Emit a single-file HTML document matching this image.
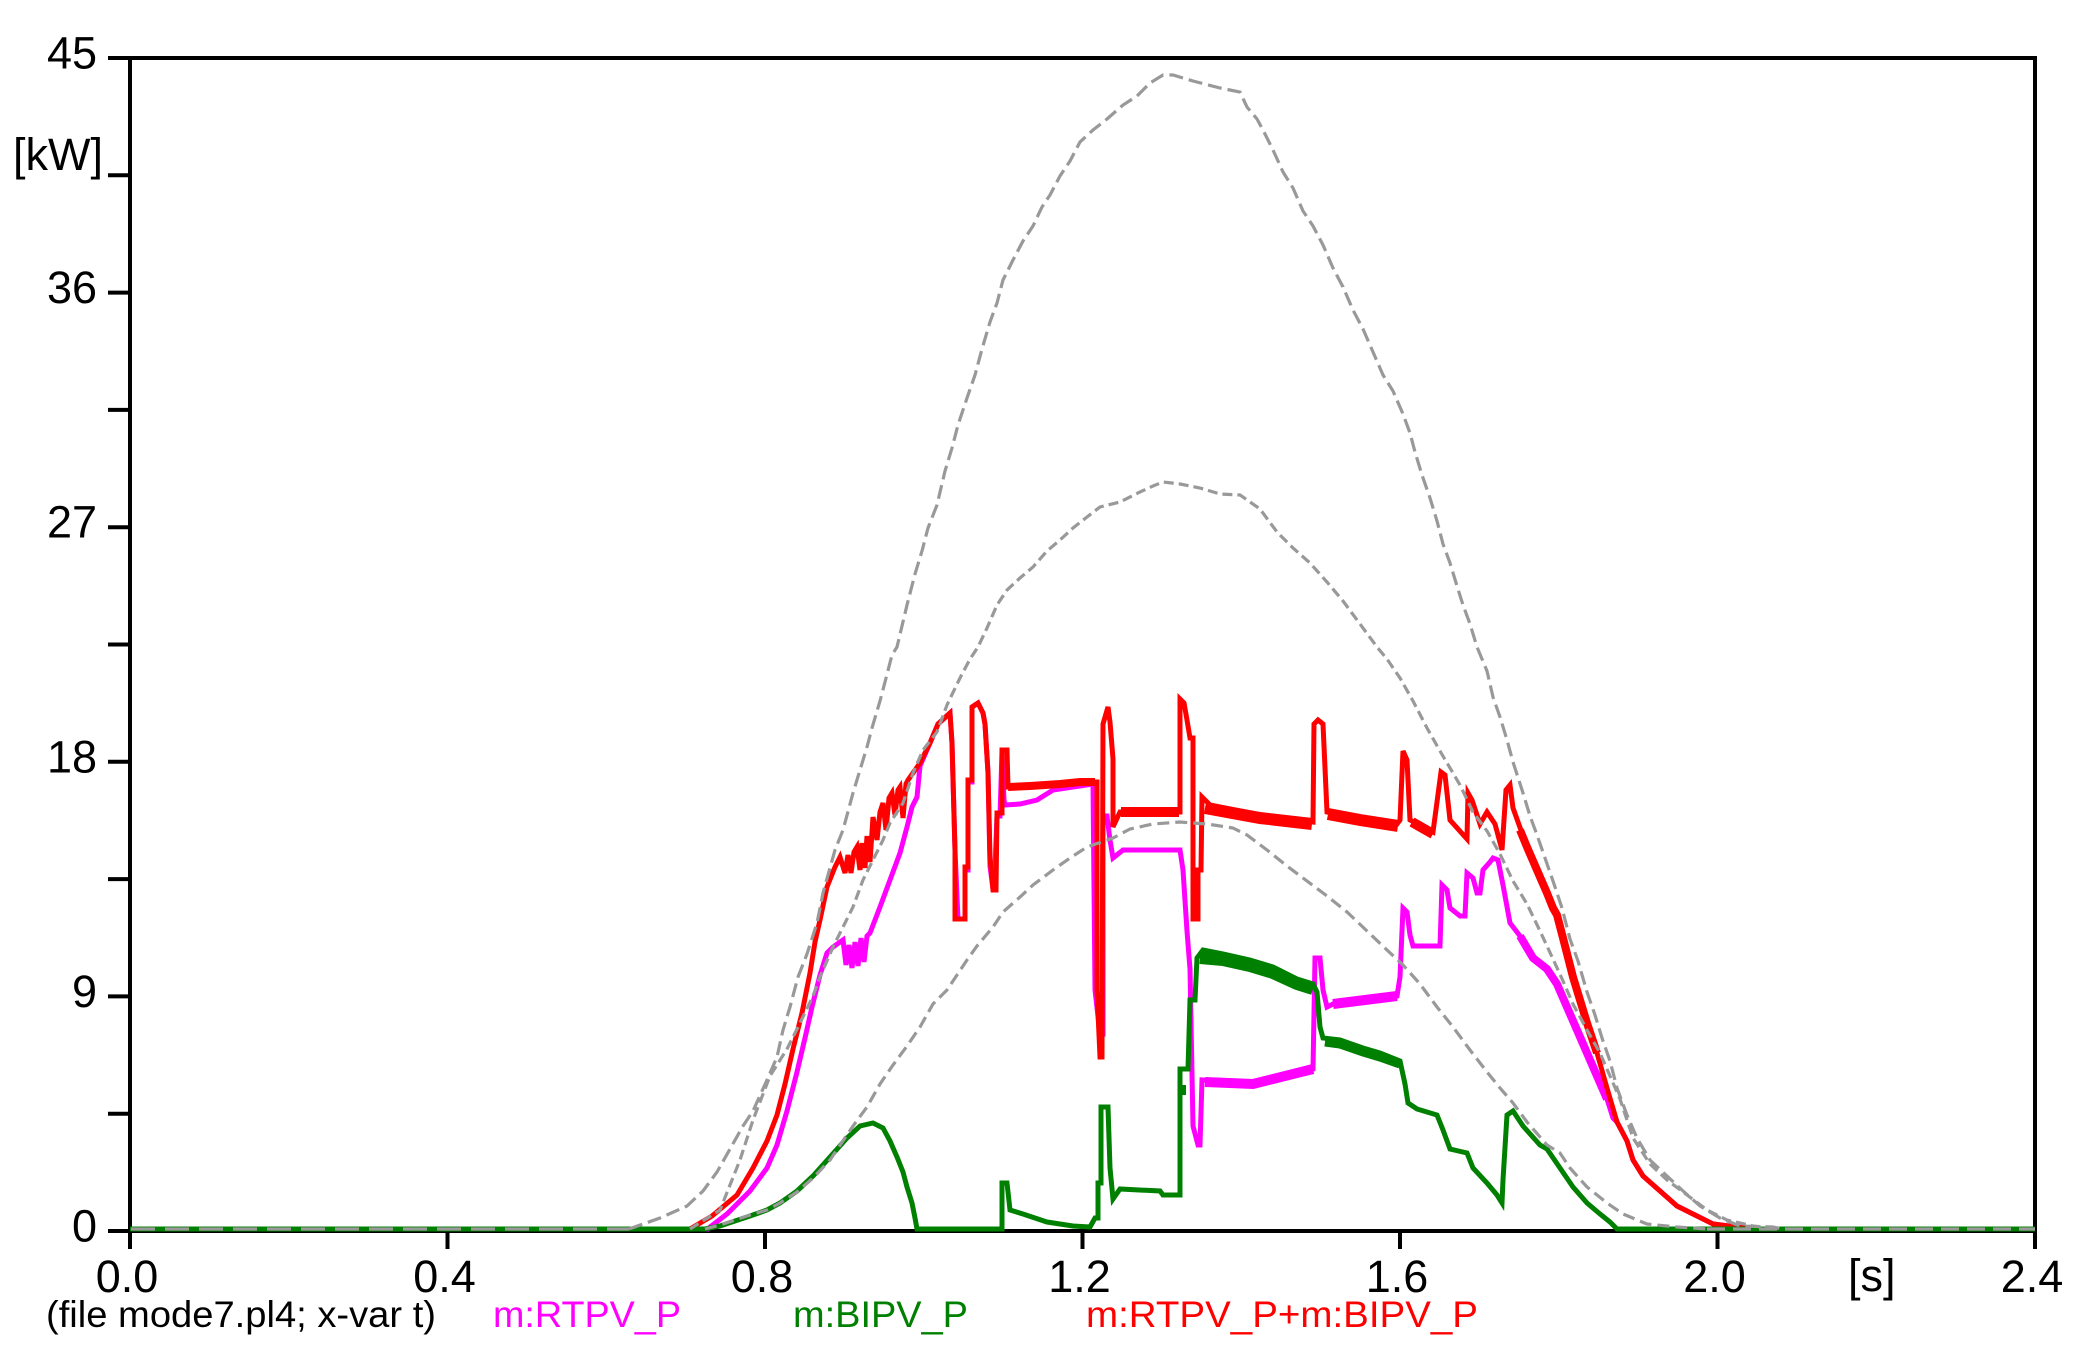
<!DOCTYPE html>
<html>
<head>
<meta charset="utf-8">
<style>
html,body{margin:0;padding:0;background:#fff;}
svg{display:block;}
text{font-family:"Liberation Sans",Arial,sans-serif;}
</style>
</head>
<body>
<svg width="2076" height="1369" viewBox="0 0 2076 1369" xmlns="http://www.w3.org/2000/svg">
<rect x="0" y="0" width="2076" height="1369" fill="#fff"/>

<!-- axes frame -->
<g stroke="#000" stroke-width="4" fill="none" stroke-linecap="butt">
  <line x1="128" y1="58" x2="2037" y2="58"/>
  <line x1="130" y1="56" x2="130" y2="1249"/>
  <line x1="2035" y1="56" x2="2035" y2="1249"/>
  <line x1="130" y1="1231" x2="2035" y2="1231"/>
  <!-- y ticks -->
  <line x1="108" y1="58" x2="130" y2="58"/>
  <line x1="108" y1="175.3" x2="130" y2="175.3"/>
  <line x1="108" y1="292.6" x2="130" y2="292.6"/>
  <line x1="108" y1="409.9" x2="130" y2="409.9"/>
  <line x1="108" y1="527.2" x2="130" y2="527.2"/>
  <line x1="108" y1="644.5" x2="130" y2="644.5"/>
  <line x1="108" y1="761.8" x2="130" y2="761.8"/>
  <line x1="108" y1="879.1" x2="130" y2="879.1"/>
  <line x1="108" y1="996.4" x2="130" y2="996.4"/>
  <line x1="108" y1="1113.7" x2="130" y2="1113.7"/>
  <line x1="108" y1="1231" x2="130" y2="1231"/>
  <!-- x ticks -->
  <line x1="447.5" y1="1231" x2="447.5" y2="1249"/>
  <line x1="765" y1="1231" x2="765" y2="1249"/>
  <line x1="1082.5" y1="1231" x2="1082.5" y2="1249"/>
  <line x1="1400" y1="1231" x2="1400" y2="1249"/>
  <line x1="1717.5" y1="1231" x2="1717.5" y2="1249"/>
</g>

<!-- y labels -->
<g font-size="45" fill="#000" text-anchor="end">
  <text x="97" y="68.5">45</text>
  <text x="97" y="303">36</text>
  <text x="97" y="537.7">27</text>
  <text x="97" y="772.3">18</text>
  <text x="97" y="1007">9</text>
  <text x="97" y="1241.5">0</text>
</g>
<text x="13" y="170" font-size="45" fill="#000">[kW]</text>

<!-- x labels -->
<g font-size="45" fill="#000" text-anchor="middle">
  <text x="127" y="1292">0.0</text>
  <text x="444.5" y="1292">0.4</text>
  <text x="762" y="1292">0.8</text>
  <text x="1079.5" y="1292">1.2</text>
  <text x="1397" y="1292">1.6</text>
  <text x="1714.5" y="1292">2.0</text>
  <text x="2032" y="1292">2.4</text>
</g>
<text x="1848" y="1291" font-size="45" fill="#000">[s]</text>

<!-- legend -->
<g font-size="37">
  <text x="46" y="1327" fill="#000" textLength="390" lengthAdjust="spacingAndGlyphs">(file mode7.pl4; x-var t)</text>
  <text x="493" y="1327" fill="#ff00ff" textLength="188" lengthAdjust="spacingAndGlyphs">m:RTPV_P</text>
  <text x="793" y="1327" fill="#008000" textLength="175" lengthAdjust="spacingAndGlyphs">m:BIPV_P</text>
  <text x="1086" y="1327" fill="#ff0000" textLength="392" lengthAdjust="spacingAndGlyphs">m:RTPV_P+m:BIPV_P</text>
</g>

<!-- magenta RTPV_P -->
<g fill="none" stroke="#ff00ff" stroke-linejoin="miter" stroke-linecap="butt">
<polyline stroke-width="5" points="130,1229 708,1229 710,1227 727,1214 750,1191 767,1168 777,1145 787,1111 797,1072 805,1038 812,1007 820,975 827,953 833,947 843,940 846,965 849,945 852,968 855,942 858,966 861,938 864,962 867,936 870,933 880,907 890,880 900,853 907,827 912,807 917,797 920,766 930,743 938,724 950,713 952,743 955,850 958,919 965,919 965,870 968,870 968,782 972,782 972,707 978,703 983,713 985,724 988,772 990,866 993,889 995,866 997,816 1000,816 1002,751 1004,800 1005,805 1020,804 1037,800 1053,790 1073,787 1093,784 1095,990 1100,1034 1103,1034 1103,816 1107,816 1110,840 1113,858 1123,850 1180,850 1183,870 1187,931 1190,969 1193,1126 1198,1145 1200,1145 1202,1080 1253,1084 1313,1069 1315,958 1320,958 1323,990 1327,1007 1333,1004 1397,996 1400,977 1403,908 1407,912 1410,935 1413,946 1440,946 1442,885 1447,890 1450,908 1460,916 1465,916 1467,873 1473,878 1477,893 1480,893 1483,870 1490,862 1493,858 1498,860 1503,885 1510,923 1520,936 1533,958 1547,969 1557,984 1567,1007 1577,1030 1587,1053 1597,1076 1607,1099 1613,1118 1617,1122 1627,1141 1633,1160 1643,1176 1660,1191 1677,1206 1693,1214 1713,1224 1737,1227 1753,1229 2035,1229"/>
<polyline stroke-width="10" points="1205,1082 1253,1084 1313,1069"/>
<polyline stroke-width="10" points="1333,1004 1397,996"/>
<polyline stroke-width="8" points="1520,936 1533,958 1547,969 1557,984 1567,1007 1577,1030 1587,1053 1597,1076 1607,1099"/>
</g>

<!-- red RTPV_P+BIPV_P -->
<g fill="none" stroke="#ff0000" stroke-linejoin="miter" stroke-linecap="butt">
<polyline stroke-width="5" points="130,1229 690,1229 712,1216 737,1195 753,1168 767,1141 777,1115 785,1084 793,1049 802,1013 810,973 815,942 820,920 827,887 835,867 840,857 845,873 848,855 851,873 854,852 857,847 860,870 862,843 865,868 867,836 870,862 873,817 877,840 880,812 883,803 886,830 889,798 892,793 895,815 898,790 900,787 903,818 906,784 908,780 920,763 930,743 938,724 950,713 952,743 955,850 955,919 965,919 965,867 968,867 968,780 972,780 972,707 978,703 983,713 985,724 988,773 990,857 993,890 996,890 997,813 1002,813 1002,750 1007,750 1008,787 1030,786 1060,784 1080,782 1097,782 1097,990 1100,1057 1102,1057 1103,724 1108,707 1110,722 1113,759 1113,827 1120,812 1180,812 1180,699 1184,703 1187,720 1190,738 1193,738 1193,919 1198,919 1198,870 1201,870 1202,797 1210,805 1260,815 1313,822 1314,724 1318,720 1323,724 1327,812 1360,818 1397,824 1400,820 1403,751 1407,760 1410,820 1433,832 1441,772 1445,775 1450,820 1467,839 1468,793 1472,800 1480,824 1487,812 1495,824 1502,850 1506,790 1510,785 1513,808 1527,847 1540,877 1547,893 1553,908 1557,915 1563,938 1573,977 1580,1000 1587,1023 1597,1053 1607,1088 1617,1122 1627,1141 1633,1160 1643,1176 1660,1191 1677,1206 1693,1214 1713,1224 1737,1227 1753,1229 2035,1229"/>
<polyline stroke-width="8" points="1008,787 1030,786 1060,784 1080,782 1095,782"/>
<polyline stroke-width="10" points="1121,812 1179,812"/>
<polyline stroke-width="12" points="1205,808 1260,818 1312,824"/>
<polyline stroke-width="12" points="1328,814 1360,820 1398,826"/>
<polyline stroke-width="10" points="1412,822 1433,834"/>
<polyline stroke-width="8" points="1520,830 1527,847 1540,877 1547,893 1553,908 1557,915 1563,938 1573,977 1580,1000 1587,1023 1597,1053"/>
</g>

<!-- green BIPV_P -->
<g fill="none" stroke="#008000" stroke-linejoin="miter" stroke-linecap="butt">
<polyline stroke-width="5" points="130,1229 705,1229 720,1226 750,1216 767,1210 780,1203 797,1191 813,1176 830,1157 847,1138 860,1126 873,1123 883,1128 890,1141 897,1157 903,1172 907,1187 912,1203 915,1218 917,1229 1002,1229 1002,1183 1007,1183 1010,1210 1023,1214 1047,1222 1073,1226 1090,1227 1095,1218 1098,1218 1098,1183 1101,1183 1101,1107 1108,1107 1110,1168 1113,1199 1120,1189 1160,1191 1163,1195 1180,1195 1180,1069 1188,1069 1190,1000 1195,1000 1197,958 1203,950 1223,954 1250,960 1273,967 1297,979 1313,984 1317,992 1320,1027 1323,1038 1340,1040 1363,1048 1380,1053 1400,1061 1405,1084 1408,1103 1417,1109 1437,1115 1443,1130 1450,1149 1467,1153 1473,1168 1487,1183 1497,1195 1502,1203 1503,1180 1507,1115 1513,1111 1523,1126 1540,1145 1547,1149 1560,1168 1573,1187 1587,1203 1600,1214 1610,1222 1617,1229 2035,1229"/>
<polyline stroke-width="10" points="1182,1090 1186,1090"/>
<polyline stroke-width="12" points="1200,958 1223,960 1250,966 1273,973 1297,984 1313,989"/>
<polyline stroke-width="9" points="1325,1042 1340,1044 1363,1052 1380,1057 1400,1064"/>
</g>

<!-- gray reference curves -->
<g fill="none" stroke="#999999" stroke-width="3.2" stroke-linejoin="miter">
<polyline stroke-dasharray="14 6" points="629,1229 660,1218 687,1206 703,1191 717,1172 730,1149 743,1126 753,1111 767,1080 777,1057 783,1030 790,1007 798,977 807,954 817,923 823,893 835,850 843,830 853,793 860,770 867,747 872,728 880,701 885,682 892,655 897,647 907,605 915,574 922,551 928,528 937,505 945,471 952,448 958,425 967,398 975,375 982,349 990,322 997,303 1003,280 1013,260 1023,241 1033,226 1042,207 1050,195 1060,176 1070,161 1080,142 1093,130 1107,119 1123,105 1137,96 1150,83 1163,75 1173,75 1193,81 1220,88 1240,92 1247,107 1257,119 1263,130 1273,150 1283,172 1293,188 1303,211 1313,226 1323,245 1333,268 1343,287 1353,310 1363,329 1373,352 1383,375 1393,391 1403,414 1410,433 1415,452 1422,475 1430,498 1437,521 1443,544 1450,563 1457,586 1463,605 1470,624 1477,647 1487,671 1493,697 1500,717 1507,740 1513,762 1523,793 1530,816 1537,835 1545,858 1553,881 1562,908 1570,939 1578,961 1587,992 1595,1015 1602,1038 1610,1061 1617,1088 1627,1115 1637,1138 1650,1160 1667,1176 1683,1191 1700,1206 1720,1218 1740,1226 1773,1227 1783,1229"/>
<polyline stroke-dasharray="10 5" points="690,1229 720,1210 740,1160 753,1120 770,1076 787,1049 800,1023 813,996 820,977 833,947 853,907 863,880 873,860 883,840 890,823 903,803 913,773 923,750 937,732 947,705 960,678 970,659 978,647 987,628 997,605 1007,590 1020,578 1033,567 1047,551 1060,540 1073,528 1087,517 1100,507 1120,502 1140,492 1153,486 1163,482 1180,484 1200,488 1220,494 1240,495 1260,509 1277,532 1293,548 1310,563 1327,582 1343,601 1360,624 1377,647 1387,659 1400,678 1413,701 1427,728 1440,751 1460,785 1473,812 1487,831 1500,854 1513,881 1527,904 1540,931 1553,959 1563,981 1573,1004 1587,1030 1600,1053 1610,1076 1620,1099 1633,1138 1650,1164 1667,1180 1687,1195 1707,1210 1727,1220 1753,1226 1780,1229"/>
<polyline stroke-dasharray="12 6" points="705,1229 720,1225 750,1215 767,1210 780,1203 797,1192 813,1178 830,1160 853,1126 867,1107 880,1084 893,1065 907,1046 920,1027 933,1004 947,990 967,960 977,946 993,927 1003,912 1020,897 1033,885 1053,870 1070,858 1087,847 1113,838 1130,829 1153,824 1180,822 1207,824 1233,828 1247,835 1267,850 1287,866 1307,881 1327,896 1347,912 1367,931 1387,950 1403,965 1420,984 1437,1007 1453,1027 1470,1050 1487,1072 1500,1088 1513,1103 1527,1122 1547,1145 1560,1153 1570,1168 1587,1187 1607,1203 1623,1214 1647,1224 1677,1227 1707,1229"/>
<polyline stroke-dasharray="24 10" points="131,1229 629,1229"/>
<polyline stroke-dasharray="18 8" points="1707,1229 2035,1229"/>
</g>
</svg>
</body>
</html>
